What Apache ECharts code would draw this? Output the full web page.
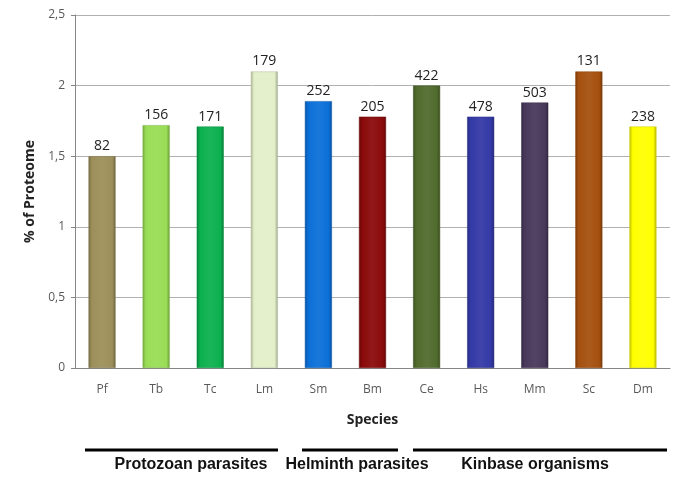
<!DOCTYPE html>
<html><head><meta charset="utf-8">
<script src="https://cdn.jsdelivr.net/npm/echarts@6/dist/echarts.min.js"></script>
<style>html,body{margin:0;padding:0;background:#fff}#c{width:685px;height:479px}</style>
</head><body><div id="c"></div>
<script>
const categories = ['Pf','Tb','Tc','Lm','Sm','Bm','Ce','Hs','Mm','Sc','Dm'];
const percentProteome = [1.50, 1.72, 1.71, 2.10, 1.89, 1.78, 2.00, 1.78, 1.88, 2.10, 1.71];
const kinaseCounts = [82, 156, 171, 179, 252, 205, 422, 478, 503, 131, 238];
const barColors = ['#9C8F5A','#99DD55','#0BB04E','#E2EFC8','#0B6FD8','#8A0A0A','#506B2D','#3339A6','#48385A','#A5500F','#FFFF00'];
const yTicks = [0, 0.5, 1, 1.5, 2, 2.5];
const groupLabels = ['Protozoan parasites','Helminth parasites','Kinbase organisms'];

function shade(hex, f){
  const n = parseInt(hex.slice(1),16);
  let r=(n>>16)&255,g=(n>>8)&255,b=n&255;
  const m = v => Math.max(0,Math.min(255,Math.round(f<0? v*(1+f) : v+(255-v)*f)));
  return 'rgb('+m(r)+','+m(g)+','+m(b)+')';
}

const chart = echarts.init(document.getElementById('c'), null, {renderer:'canvas'});
const font = '"Open Sans", "Noto Sans", sans-serif';
chart.setOption({
  animation:false,
  backgroundColor:'#fff',
  grid:{left:75, right:15, top:15, bottom:111},
  xAxis:{
    type:'category', data:categories,
    axisLine:{lineStyle:{color:'#868686'}},
    axisTick:{show:false},
    axisLabel:{color:'#595959', fontSize:12, fontFamily:font, margin:16},
    name:'Species', nameLocation:'middle', nameGap:45,
    nameTextStyle:{color:'#222', fontSize:14, fontWeight:'bold', fontFamily:font}
  },
  yAxis:{
    type:'value', min:yTicks[0], max:yTicks[yTicks.length-1], interval:0.5,
    axisLine:{show:true, lineStyle:{color:'#868686'}},
    axisTick:{show:true, length:4, lineStyle:{color:'#868686'}},
    splitLine:{lineStyle:{color:'#B0B0B0'}},
    axisLabel:{color:'#595959', fontSize:12, fontFamily:font, margin:10,
      formatter: v => String(v).replace('.', ',')},
    name:'% of Proteome', nameLocation:'middle', nameGap:37,
    nameTextStyle:{color:'#222', fontSize:14, fontWeight:'bold', fontFamily:font}
  },
  series:[{
    type:'bar', barWidth:'50%',
    data: percentProteome.map((v,i)=>({
      value:v,
      itemStyle:{
        color:{type:'linear',x:0,y:0,x2:1,y2:0,colorStops:[
          {offset:0,color:shade(barColors[i],-0.25)},
          {offset:0.12,color:barColors[i]},
          {offset:0.5,color:shade(barColors[i],0.06)},
          {offset:0.88,color:barColors[i]},
          {offset:1,color:shade(barColors[i],-0.3)}]},
        borderColor:shade(barColors[i],-0.2), borderWidth:0.5
      }
    })),
    label:{show:true, position:'top', distance:3, color:'#222', fontSize:14, fontFamily:font,
      formatter: p => kinaseCounts[p.dataIndex]}
  }],
  graphic:[
    {type:'line', shape:{x1:85,y1:450,x2:278,y2:450}, style:{stroke:'#000',lineWidth:3}},
    {type:'line', shape:{x1:302,y1:450,x2:398,y2:450}, style:{stroke:'#000',lineWidth:3}},
    {type:'line', shape:{x1:413,y1:450,x2:667,y2:450}, style:{stroke:'#000',lineWidth:3}},
    {type:'text', x:191, y:465, style:{text:groupLabels[0], fill:'#111', font:'bold 16px "Liberation Sans", Arial, sans-serif', textAlign:'center', textVerticalAlign:'middle'}},
    {type:'text', x:357, y:465, style:{text:groupLabels[1], fill:'#111', font:'bold 16px "Liberation Sans", Arial, sans-serif', textAlign:'center', textVerticalAlign:'middle'}},
    {type:'text', x:535, y:465, style:{text:groupLabels[2], fill:'#111', font:'bold 16px "Liberation Sans", Arial, sans-serif', textAlign:'center', textVerticalAlign:'middle'}}
  ]
});
</script></body></html>
